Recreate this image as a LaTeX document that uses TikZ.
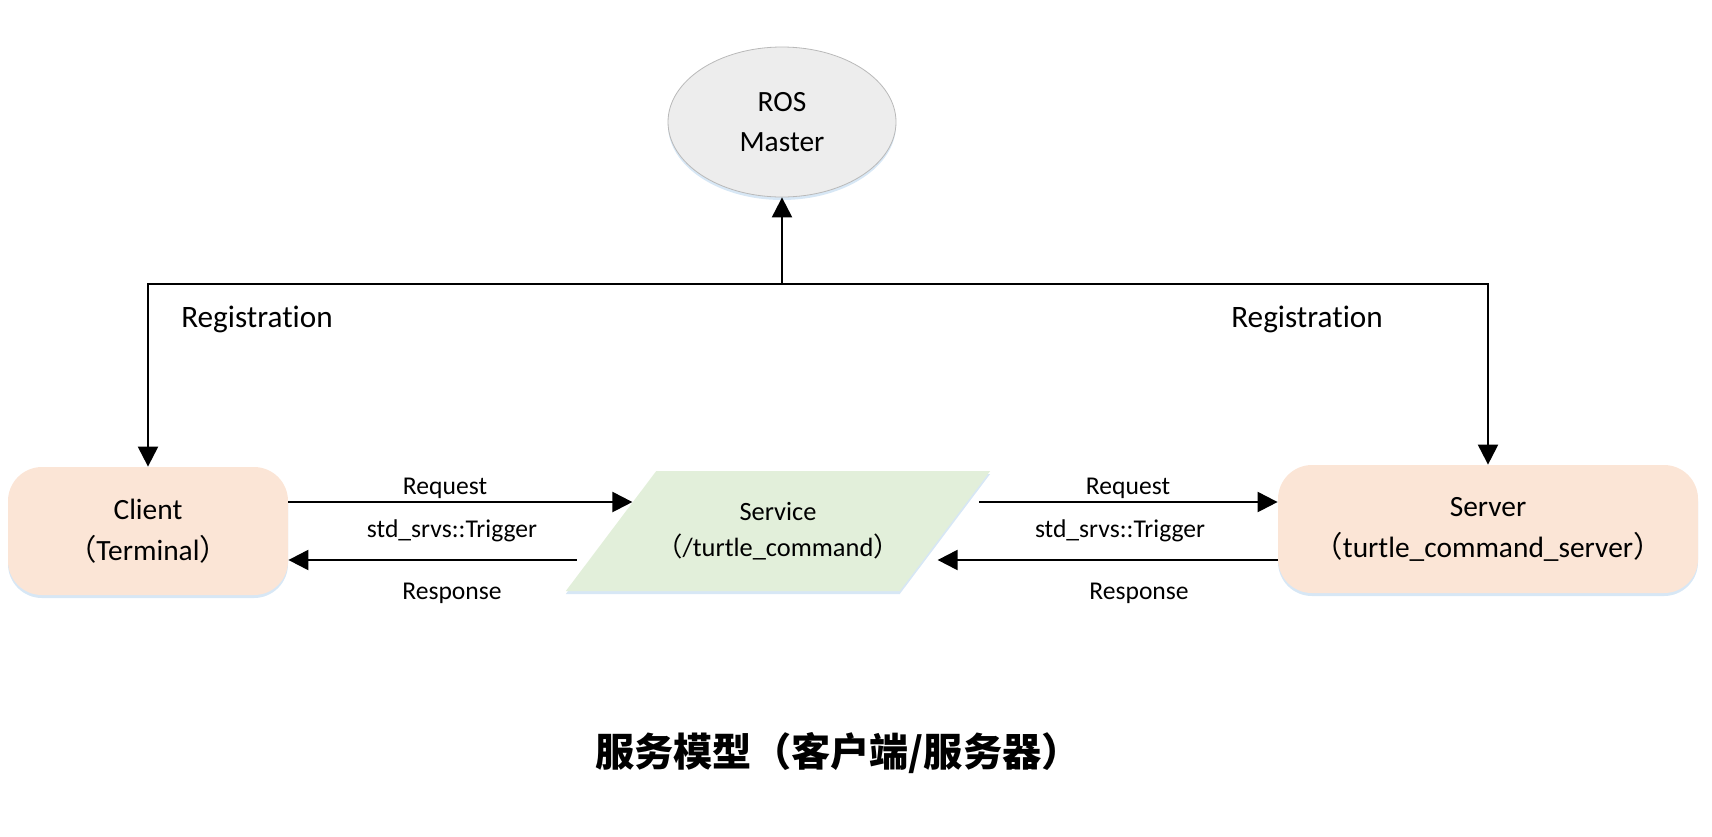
\documentclass[tikz,border=0pt]{standalone}
\usepackage{fontspec}
\setmainfont{Carlito}[Ligatures={NoCommon}]
\newfontfamily\cjk{Noto Sans CJK SC}
\usetikzlibrary{arrows.meta,shapes.geometric,calc,shadows,positioning}
\definecolor{peach}{HTML}{FBE5D6}
\definecolor{mint}{HTML}{E2EFDA}
\definecolor{mastergray}{HTML}{EDEDED}
\definecolor{glow}{HTML}{BDD7EE}

\begin{document}
\begin{tikzpicture}[x=0.5pt,y=-0.5pt,
	glowing/.style={drop shadow={shadow xshift=0pt,shadow yshift=-1.5pt,fill=glow,opacity=0.6}},
	nodebox/.style={rectangle,rounded corners=17pt,fill=peach,align=center,inner sep=0pt,minimum height=64pt,font=\fontsize{14.7}{20.5}\selectfont,glowing},
	link/.style={line width=1.1pt,-{Triangle[length=10pt,width=10pt]}},
	reglabel/.style={font=\fontsize{15.6}{19}\selectfont},
	msglabel/.style={font=\fontsize{12.8}{15}\selectfont}]
	\useasboundingbox (0,0) rectangle (1712,836);
	\node (master) at (782,122)[ellipse,fill=mastergray,draw=gray!55,line width=0.4pt,minimum width=114pt,minimum height=75pt,inner sep=0pt,align=center,font=\fontsize{14.7}{20}\selectfont,glowing] {ROS\\Master};
	\node (client) at (148,531)[nodebox,minimum width=140pt] {Client\\{\cjk （}Terminal{\cjk ）}};
	\node (server) at (1488,529)[nodebox,minimum width=210pt] {Server\\{\cjk （}turtle\_command\_server{\cjk ）}};
	\node (service) at (778,531)[trapezium,trapezium left angle=52,trapezium right angle=128,trapezium stretches body=true,fill=mint,minimum width=208pt,minimum height=60pt,inner xsep=0pt,inner ysep=14.5pt,align=center,font=\fontsize{13.2}{18}\selectfont,glowing] {Service\\{\cjk （}/turtle\_command{\cjk ）}};
	\coordinate (reg) at (782,284);
	\draw[link] (reg)--(master.south);
	\draw[link] (reg)-|(client.north);
	\draw[link] (reg)-|(server.north);
	\node (regleft) at (257,319)[reglabel] {Registration};
	\node (regright) at (1307,319)[reglabel] {Registration};
	\coordinate (inleft) at ($(service.bottom left corner)!0.74!(service.top left corner)$);
	\coordinate (outleft) at ($(service.bottom left corner)!0.26!(service.top left corner)$);
	\coordinate (outright) at ($(service.bottom right corner)!0.74!(service.top right corner)$);
	\coordinate (inright) at ($(service.bottom right corner)!0.26!(service.top right corner)$);
	\draw[link] (client.east |- inleft)--(inleft);
	\draw[link] ([xshift=-6pt]outleft)--(client.east |- outleft);
	\draw[link] ([xshift=6pt]outright)--(server.west |- outright);
	\draw[link] (server.west |- inright)--([xshift=7pt]inright);
	\node (reqleft) at (445,488)[msglabel] {Request};
	\node (typeleft) at (452,531)[msglabel] {std\_srvs::Trigger};
	\node (resleft) at (452,593)[msglabel] {Response};
	\node (reqright) at (1128,488)[msglabel] {Request};
	\node (typeright) at (1120,531)[msglabel] {std\_srvs::Trigger};
	\node (resright) at (1139,593)[msglabel] {Response};
	\node (title) at (838,753)[font=\cjk\bfseries\fontsize{19.6}{24}\selectfont] {服务模型（客户端/服务器）};
\end{tikzpicture}
\end{document}
